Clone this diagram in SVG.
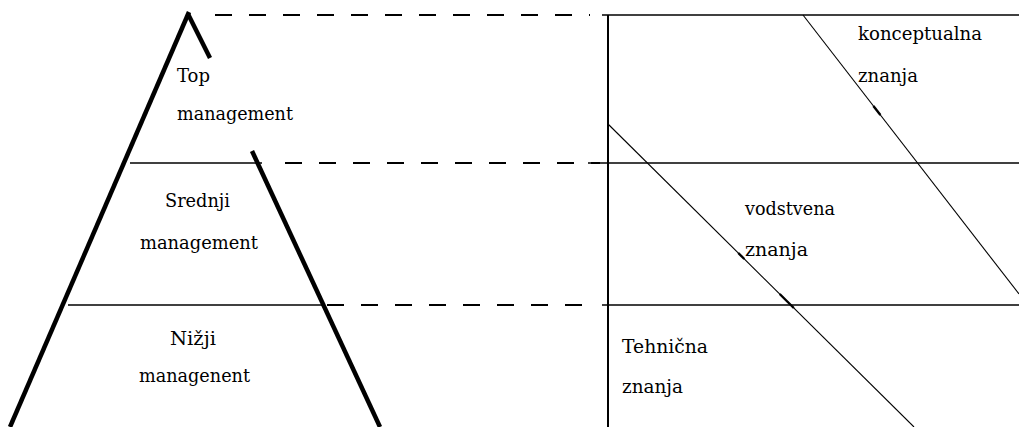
<svg xmlns="http://www.w3.org/2000/svg" width="1019" height="427" viewBox="0 0 1019 427">
<style>
.t{font-family:"DejaVu Serif","Liberation Serif",serif;font-size:18px;fill:#000}
.thick{stroke:#000;stroke-width:4.5;fill:none;stroke-linecap:butt}
.solid{stroke:#000;stroke-width:1.6;fill:none}
.dash{stroke:#000;stroke-width:1.8;fill:none;stroke-dasharray:17 17}
.diag{stroke:#000;stroke-width:1.1;fill:none}
.tick{stroke:#000;stroke-width:2.4}
</style>
<rect width="1019" height="427" fill="#fff"/>
<g id="connectors">
  <line class="dash" x1="215" y1="15" x2="590" y2="15"/>
  <line class="dash" x1="285" y1="163" x2="600" y2="163"/>
  <line class="dash" x1="327" y1="305" x2="598" y2="305"/>
  <line class="solid" x1="602" y1="15" x2="1019" y2="15"/>
  <line class="solid" x1="588" y1="163" x2="1019" y2="163"/>
  <line class="solid" x1="602" y1="305" x2="1019" y2="305"/>
  <line class="solid" x1="608" y1="15" x2="608" y2="427" style="stroke-width:2"/>
  <line class="diag" x1="803" y1="15" x2="1019" y2="294"/>
  <line class="diag" x1="608" y1="124" x2="914" y2="427"/>
  <line class="tick" x1="873.4" y1="106" x2="880.4" y2="115"/>
  <line class="tick" x1="779.7" y1="294" x2="793.8" y2="308"/>
  <line class="tick" x1="738.3" y1="253" x2="744.3" y2="259"/>
</g>
<g id="pyramid">
  <line class="thick" x1="189" y1="12" x2="10" y2="427"/>
  <line class="thick" x1="188" y1="14" x2="210" y2="58"/>
  <line class="thick" x1="252" y1="151" x2="380" y2="427"/>
  <line class="solid" x1="130" y1="163" x2="262" y2="163"/>
  <line class="solid" x1="68" y1="305" x2="325" y2="305"/>
</g>
<g id="top-management">
  <text class="t" x="177" y="82" textLength="33" lengthAdjust="spacingAndGlyphs">Top</text>
  <text class="t" x="177" y="120" textLength="116" lengthAdjust="spacingAndGlyphs">management</text>
</g>
<g id="srednji-management">
  <text class="t" x="165" y="207" textLength="65" lengthAdjust="spacingAndGlyphs">Srednji</text>
  <text class="t" x="140" y="249" textLength="118" lengthAdjust="spacingAndGlyphs">management</text>
</g>
<g id="nizji-management">
  <text class="t" x="170" y="345" textLength="46" lengthAdjust="spacingAndGlyphs">Nižji</text>
  <text class="t" x="139" y="382" textLength="111" lengthAdjust="spacingAndGlyphs">managenent</text>
</g>
<g id="konceptualna">
  <text class="t" x="858" y="40" textLength="124" lengthAdjust="spacingAndGlyphs">konceptualna</text>
  <text class="t" x="858" y="82" textLength="60" lengthAdjust="spacingAndGlyphs">znanja</text>
</g>
<g id="vodstvena">
  <text class="t" x="745" y="215" textLength="90" lengthAdjust="spacingAndGlyphs">vodstvena</text>
  <text class="t" x="745" y="256" textLength="63" lengthAdjust="spacingAndGlyphs">znanja</text>
</g>
<g id="tehnicna">
  <text class="t" x="622" y="353" textLength="86" lengthAdjust="spacingAndGlyphs">Tehnična</text>
  <text class="t" x="622" y="393" textLength="61" lengthAdjust="spacingAndGlyphs">znanja</text>
</g>
</svg>
